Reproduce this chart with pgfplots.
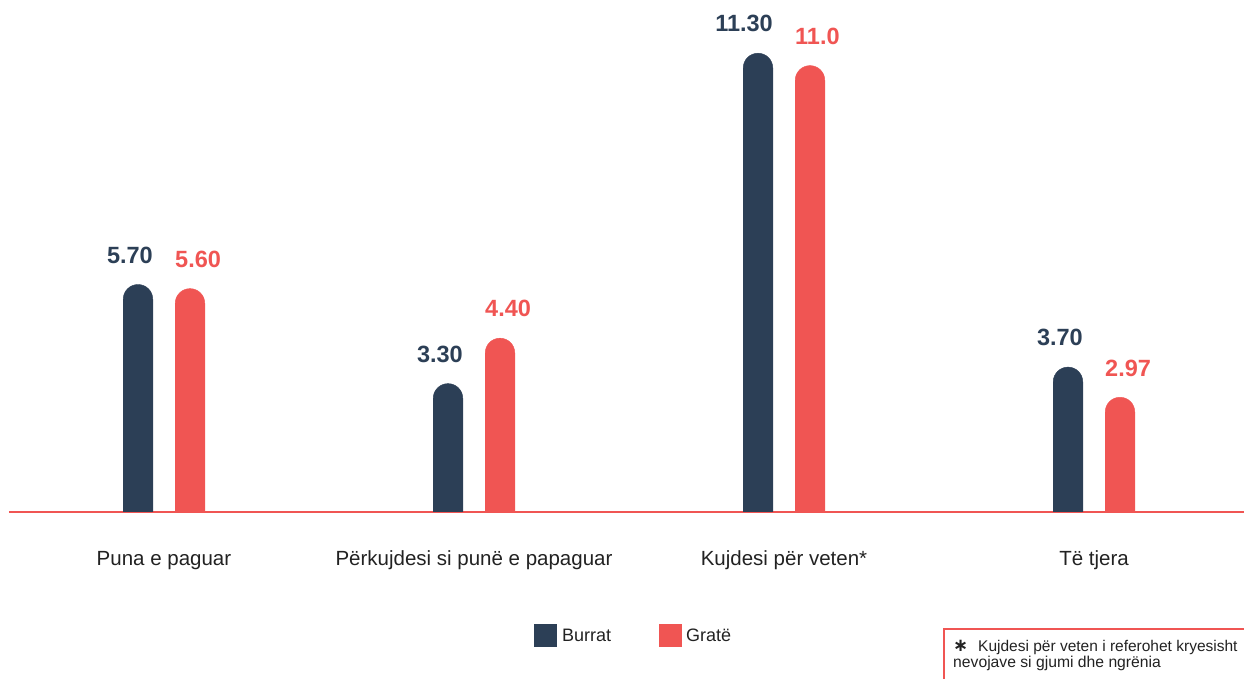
\documentclass[border=0pt]{standalone}
\usepackage{pgfplots}
\pgfplotsset{compat=1.18}
\usepackage{fontspec}
\setmainfont{Liberation Sans}
\newfontfamily\dejavu{DejaVu Sans}
\definecolor{navyc}{RGB}{44,63,86}
\definecolor{redc}{RGB}{240,85,83}
\definecolor{txt}{RGB}{34,34,34}
\begin{document}
\begin{tikzpicture}
\useasboundingbox (0,0) rectangle (1244pt,679pt);
\begin{axis}[
  at={(9pt,167pt)}, anchor=south west,
  scale only axis, width=1235pt, height=512pt,
  xmin=-0.5, xmax=3.484, ymin=0, ymax=12.397,
  axis y line=none, axis x line=bottom,
  x axis line style={-, draw=redc, line width=1.6pt},
  xtick={0,1,2,3},
  xticklabels={Puna e paguar, Përkujdesi si punë e papaguar, Kujdesi për veten*, Të tjera},
  major tick length=0pt,
  xticklabel style={anchor=base, inner sep=0pt, yshift=-54pt, font=\fontsize{20.5}{20.5}\selectfont, text=txt},
  point meta=explicit symbolic,
]
\addplot[ybar, bar width=30pt, bar shift=0pt, fill=navyc, draw=none,
  xshift=-26pt, yshift=-22.7pt,
  mark=*, mark size=14.8pt, mark options={fill=navyc, draw=navyc, line width=0.4pt},
  nodes near coords,
  nodes near coords style={anchor=base east, xshift=15pt, yshift=36pt, inner sep=0pt,
    font=\fontsize{23.5}{23.5}\selectfont\bfseries, text=navyc}]
coordinates {(0,5.70)[5.70] (1,3.30)[3.30] (2,11.30)[11.30] (3,3.70)[3.70]};
\addplot[ybar, bar width=30pt, bar shift=0pt, fill=redc, draw=none,
  xshift=26pt, yshift=-22.7pt,
  mark=*, mark size=14.8pt, mark options={fill=redc, draw=redc, line width=0.4pt},
  nodes near coords,
  nodes near coords style={anchor=base west, xshift=-15pt, yshift=36pt, inner sep=0pt,
    font=\fontsize{23.5}{23.5}\selectfont\bfseries, text=redc}]
coordinates {(0,5.60)[5.60] (1,4.40)[4.40] (2,11.0)[11.0] (3,2.97)[2.97]};
\end{axis}
% legend
\fill[navyc] (534pt,32pt) rectangle (557pt,55pt);
\node[anchor=base west, inner sep=0pt, font=\fontsize{18}{18}\selectfont, text=txt] at (562pt,37pt) {Burrat};
\fill[redc] (659pt,32pt) rectangle (682pt,55pt);
\node[anchor=base west, inner sep=0pt, font=\fontsize{18}{18}\selectfont, text=txt] at (686pt,37pt) {Gratë};
% footnote
\draw[redc, line width=2pt] (944pt,-2pt) -- (944pt,50pt) -- (1250pt,50pt);
\node[anchor=base west, inner sep=0pt, font=\fontsize{18}{18}\selectfont\dejavu\bfseries, text=txt] at (953pt,27pt) {∗};
\node[anchor=base west, inner sep=0pt, font=\fontsize{15.5}{15.5}\selectfont, text=txt] at (978pt,27pt) {Kujdesi për veten i referohet kryesisht};
\node[anchor=base west, inner sep=0pt, font=\fontsize{15.7}{15.7}\selectfont, text=txt] at (953pt,11pt) {nevojave si gjumi dhe ngrënia};
\end{tikzpicture}
\end{document}
